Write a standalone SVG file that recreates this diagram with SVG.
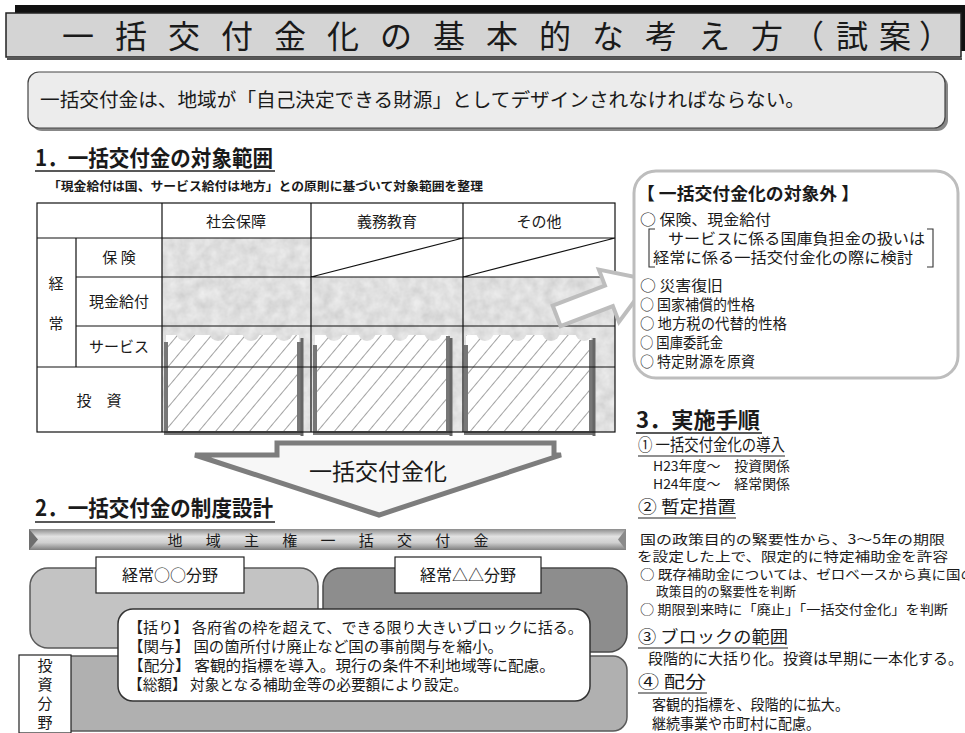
<svg xmlns="http://www.w3.org/2000/svg" width="965" height="733" viewBox="0 0 965 733">
<defs>
<style>
text{font-family:"Noto Sans CJK JP","Noto Sans",sans-serif;fill:#1a1a1a}
.h{font-weight:700;font-size:22px}
.ul{stroke:#222;stroke-width:1.5}
.ul2{stroke:#222;stroke-width:1.1}
.grid{stroke:#111;stroke-width:1.2;fill:none}
.t15{font-size:15px}
.t16{font-size:16px}
.t14{font-size:13.3px}
.t13{font-size:12.8px}
.sub{font-size:16.5px}
.mid{text-anchor:middle}
</style>
<filter id="noise" x="0" y="0" width="100%" height="100%">
<feTurbulence type="fractalNoise" baseFrequency="0.09" numOctaves="3" seed="4"/>
<feColorMatrix type="matrix" values="0.28 0 0 0 0.6  0.28 0 0 0 0.6  0.28 0 0 0 0.6  0 0 0 0 1"/>
</filter>
<pattern id="tex" patternUnits="userSpaceOnUse" x="0" y="0" width="965" height="733">
<rect x="0" y="0" width="965" height="733" filter="url(#noise)"/>
</pattern>
<pattern id="hatch" patternUnits="userSpaceOnUse" width="13" height="13" patternTransform="rotate(40)">
<rect width="13" height="13" fill="#fff"/>
<line x1="0" y1="0" x2="0" y2="13" stroke="#333" stroke-width="0.9"/>
</pattern>
<linearGradient id="bar" x1="0" y1="0" x2="0" y2="1">
<stop offset="0" stop-color="#8c8c8c"/>
<stop offset="0.35" stop-color="#e2e2e2"/>
<stop offset="0.65" stop-color="#cfcfcf"/>
<stop offset="1" stop-color="#7e7e7e"/>
</linearGradient>
</defs>

<!-- Title -->
<g id="title">
<rect x="15" y="5" width="950" height="10" fill="#111"/>
<rect x="960" y="5" width="5" height="46" fill="#111"/>
<rect x="7" y="58" width="955" height="2" fill="#555"/>
<rect x="6" y="13" width="955" height="44" fill="#d4d4d4" stroke="#222" stroke-width="1.5"/>
<text x="78 131 184 237 290 343 396 449 502 555 608 661 714 767 808 852 895 935" y="48" class="mid" style="font-size:32px">一括交付金化の基本的な考え方（試案）</text>
</g>

<!-- Subtitle -->
<g id="subtitle">
<rect x="31" y="75" width="917" height="56" rx="11" fill="#888"/>
<rect x="28" y="72" width="917" height="56" rx="11" fill="#ececec" stroke="#444" stroke-width="1.2"/>
<text x="40" y="107" style="font-size:19px" textLength="765" lengthAdjust="spacingAndGlyphs">一括交付金は、地域が「自己決定できる財源」としてデザインされなければならない。</text>
</g>

<!-- Section 1 -->
<g id="section1-heading">
<text x="35" y="166" class="h" textLength="238" lengthAdjust="spacingAndGlyphs">1．一括交付金の対象範囲</text>
<line x1="35" y1="171" x2="275" y2="171" class="ul"/>
<text x="48" y="190.5" style="font-size:12.5px;font-weight:700" textLength="435" lengthAdjust="spacingAndGlyphs">「現金給付は国、サービス給付は地方」との原則に基づいて対象範囲を整理</text>
</g>

<g id="table">
<rect x="37" y="203" width="578" height="229" fill="#fff"/>
<path d="M162 238 H311 V277 H615 V432 H162 Z" fill="url(#tex)"/>
<g id="hatch-box1">
<rect x="166" y="335" width="133" height="98" fill="url(#hatch)"/>
<g fill="url(#tex)"><circle cx="185" cy="332" r="9"/><circle cx="218" cy="332" r="9"/><circle cx="251" cy="332" r="9"/><circle cx="284" cy="332" r="9"/></g>
<path d="M166 342 V433 H299 V342" fill="none" stroke="#777" stroke-width="4"/>
<line x1="302" y1="338" x2="302" y2="436" stroke="#666" stroke-width="3"/>
</g>
<g id="hatch-box2">
<rect x="315" y="335" width="133" height="98" fill="url(#hatch)"/>
<g fill="url(#tex)"><circle cx="334" cy="332" r="9"/><circle cx="367" cy="332" r="9"/><circle cx="400" cy="332" r="9"/><circle cx="433" cy="332" r="9"/></g>
<path d="M315 345 V433 H448 V336" fill="none" stroke="#777" stroke-width="4"/>
<line x1="451" y1="338" x2="451" y2="436" stroke="#666" stroke-width="3"/>
</g>
<g id="hatch-box3">
<rect x="466" y="335" width="125" height="98" fill="url(#hatch)"/>
<g fill="url(#tex)"><circle cx="485" cy="332" r="9"/><circle cx="518" cy="332" r="9"/><circle cx="551" cy="332" r="9"/><circle cx="584" cy="332" r="9"/></g>
<path d="M466 345 V433 H591 V340" fill="none" stroke="#777" stroke-width="4"/>
<line x1="594" y1="338" x2="594" y2="436" stroke="#666" stroke-width="3"/>
</g>
<rect x="37" y="203" width="578" height="229" class="grid"/>
<path class="grid" d="M37 238 H615 M76 277 H615 M76 326 H615 M37 367 H615 M76 238 V367 M162 203 V432 M311 203 V432 M463 203 V432 M311 277 L463 238 M463 277 L615 238"/>
<text x="236" y="226.5" class="t15 mid">社会保障</text>
<text x="387" y="226.5" class="t15 mid">義務教育</text>
<text x="539" y="226.5" class="t15 mid">その他</text>
<text x="119" y="262.5" class="t15 mid">保 険</text>
<text x="119" y="306.5" class="t15 mid">現金給付</text>
<text x="119" y="351.5" class="t15 mid">サービス</text>
<text x="56" y="288.5" class="t15 mid">経</text>
<text x="56" y="328.5" class="t15 mid">常</text>
<text x="99" y="405.5" class="t15 mid">投　資</text>
</g>

<g id="connectors">
<polygon points="0,0 -44,-28 -44,-11 -100,-11 -100,11 -44,11 -44,28" transform="translate(650,280) rotate(-21)" fill="#fff" stroke="#bdbdbd" stroke-width="4" stroke-linejoin="miter"/>
<polygon points="277,443 554,443 554,455 561,455 379,515 195,455 277,455" fill="#f7f7f7" stroke="#7d7d7d" stroke-width="5" stroke-linejoin="miter"/>
<text x="378" y="480" class="mid" style="font-size:23px">一括交付金化</text>
</g>

<g id="exclusion-box">
<rect x="634" y="171" width="324" height="207" rx="22" fill="#fff" stroke="#bdbdbd" stroke-width="3"/>
<text x="637" y="200" style="font-size:17.5px;font-weight:700" textLength="222" lengthAdjust="spacingAndGlyphs">【 一括交付金化の対象外 】</text>
<text x="640" y="225" class="t15" textLength="131" lengthAdjust="spacingAndGlyphs">○ 保険、現金給付</text>
<path d="M655 229 H649 V267 H655 M927 229 H933 V267 H927" fill="none" stroke="#333" stroke-width="1.1"/>
<text x="668" y="244" class="t15" textLength="257" lengthAdjust="spacingAndGlyphs">サービスに係る国庫負担金の扱いは</text>
<text x="653" y="263" class="t15" textLength="260" lengthAdjust="spacingAndGlyphs">経常に係る一括交付金化の際に検討</text>
<text x="640" y="291" class="t15" textLength="83" lengthAdjust="spacingAndGlyphs">○ 災害復旧</text>
<text x="640" y="310" class="t15" textLength="115" lengthAdjust="spacingAndGlyphs">○ 国家補償的性格</text>
<text x="640" y="329" class="t15" textLength="147" lengthAdjust="spacingAndGlyphs">○ 地方税の代替的性格</text>
<text x="640" y="348" class="t15" textLength="83" lengthAdjust="spacingAndGlyphs">○ 国庫委託金</text>
<text x="640" y="367" class="t15" textLength="115" lengthAdjust="spacingAndGlyphs">○ 特定財源を原資</text>
</g>

<g id="section3">
<text x="636" y="428" class="h" textLength="124" lengthAdjust="spacingAndGlyphs">3．実施手順</text>
<line x1="636" y1="433" x2="762" y2="433" class="ul"/>
<text x="638" y="451" class="sub" textLength="147" lengthAdjust="spacingAndGlyphs">① 一括交付金化の導入</text>
<line x1="638" y1="456" x2="785" y2="456" class="ul2"/>
<text x="653" y="470.5" class="t14" textLength="137" lengthAdjust="spacingAndGlyphs">H23年度～　投資関係</text>
<text x="653" y="489" class="t14" textLength="137" lengthAdjust="spacingAndGlyphs">H24年度～　経常関係</text>
<text x="638" y="513" class="sub" textLength="98" lengthAdjust="spacingAndGlyphs">② 暫定措置</text>
<line x1="638" y1="518" x2="736" y2="518" class="ul2"/>
<text x="640" y="543.5" class="t13" textLength="305" lengthAdjust="spacingAndGlyphs">国の政策目的の緊要性から、3～5年の期限</text>
<text x="637" y="561" class="t13" textLength="311" lengthAdjust="spacingAndGlyphs">を設定した上で、限定的に特定補助金を許容</text>
<text x="640" y="578.5" class="t13" textLength="335" lengthAdjust="spacingAndGlyphs">○ 既存補助金については、ゼロベースから真に国の</text>
<text x="656" y="596" class="t13" textLength="140" lengthAdjust="spacingAndGlyphs">政策目的の緊要性を判断</text>
<text x="640" y="613.5" class="t13" textLength="308" lengthAdjust="spacingAndGlyphs">○ 期限到来時に「廃止」「一括交付金化」を判断</text>
<text x="638" y="643" class="sub" textLength="150" lengthAdjust="spacingAndGlyphs">③ ブロックの範囲</text>
<line x1="638" y1="648" x2="788" y2="648" class="ul2"/>
<text x="648" y="663.5" class="t15" textLength="315" lengthAdjust="spacingAndGlyphs">段階的に大括り化。投資は早期に一本化する。</text>
<text x="638" y="688" class="sub" textLength="68" lengthAdjust="spacingAndGlyphs">④ 配分</text>
<line x1="638" y1="693" x2="707" y2="693" class="ul2"/>
<text x="652" y="709.5" class="t15" textLength="197" lengthAdjust="spacingAndGlyphs">客観的指標を、段階的に拡大。</text>
<text x="652" y="728.5" class="t15" textLength="168" lengthAdjust="spacingAndGlyphs">継続事業や市町村に配慮。</text>
</g>

<g id="section2-heading">
<text x="35" y="516" class="h" textLength="238" lengthAdjust="spacingAndGlyphs">2．一括交付金の制度設計</text>
<line x1="35" y1="522" x2="275" y2="522" class="ul"/>
</g>

<g id="bar">
<rect x="29" y="529" width="597" height="21" fill="url(#bar)"/>
<polygon points="29,529 38,539.5 29,550" fill="#6e6e6e"/>
<polygon points="626,529 618,539.5 626,550" fill="#8a8a8a"/>
<text x="175 213.25 251.5 289.75 328 366.25 404.5 442.75 481" y="545.5" class="t15 mid">地域主権一括交付金</text>
</g>

<g id="field-a">
<rect x="30" y="568" width="288" height="80" rx="18" fill="#c3c3c3" stroke="#5a5a5a" stroke-width="1.5"/>
<rect x="96" y="557" width="148" height="36" fill="#fff" stroke="#222" stroke-width="1.2"/>
<text x="170" y="580.5" class="t16 mid">経常○○分野</text>
</g>
<g id="field-b">
<rect x="323" y="568" width="304" height="84" rx="18" fill="#8d8d8d" stroke="#4a4a4a" stroke-width="1.5"/>
<rect x="395" y="557" width="146" height="36" fill="#fff" stroke="#222" stroke-width="1.2"/>
<text x="468" y="580.5" class="t16 mid">経常△△分野</text>
</g>
<g id="field-invest">
<rect x="30" y="656" width="597" height="75" rx="14" fill="#b0b0b0" stroke="#5a5a5a" stroke-width="1.5"/>
<rect x="19" y="655" width="52" height="78" fill="#fff" stroke="#222" stroke-width="1.2"/>
<text x="45" y="671" class="t15 mid">投</text>
<text x="45" y="690" class="t15 mid">資</text>
<text x="45" y="709" class="t15 mid">分</text>
<text x="45" y="728" class="t15 mid">野</text>
</g>

<g id="callout">
<rect x="118" y="609" width="472" height="92" rx="15" fill="#fff" stroke="#333" stroke-width="1.5"/>
<text x="128" y="633" class="t15" textLength="455" lengthAdjust="spacingAndGlyphs">【括り】 各府省の枠を超えて、できる限り大きいブロックに括る。</text>
<text x="128" y="652" class="t15" textLength="375" lengthAdjust="spacingAndGlyphs">【関与】 国の箇所付け廃止など国の事前関与を縮小。</text>
<text x="128" y="671" class="t15" textLength="427" lengthAdjust="spacingAndGlyphs">【配分】 客観的指標を導入。現行の条件不利地域等に配慮。</text>
<text x="128" y="690" class="t15" textLength="340" lengthAdjust="spacingAndGlyphs">【総額】 対象となる補助金等の必要額により設定。</text>
</g>
</svg>
